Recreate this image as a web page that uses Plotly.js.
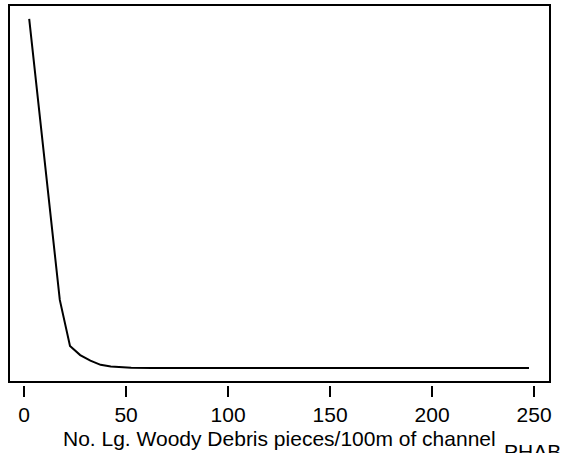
<!DOCTYPE html>
<html>
<head>
<meta charset="utf-8">
<script src="https://cdn.plot.ly/plotly-3.0.1.min.js"></script>
<style>html,body{margin:0;padding:0;background:#fff;}#chart{width:562px;height:453px;}</style>
</head>
<body>
<div id="chart"></div>
<script>
// Data (x: LWD pieces/100m, y: relative response)
var lwdX = [2.5, 7.5, 12.5, 17.5, 22.5, 27.5, 32.5, 37.5, 42.5, 47.5, 52.5, 62.5, 247.5];
var respY = [1.0, 0.728, 0.458, 0.195, 0.063, 0.037, 0.021, 0.009, 0.004, 0.002, 0.001, 0.0, 0.0];
var tickVals = [0, 50, 100, 150, 200, 250];
var tickText = ["0", "50", "100", "150", "200", "250"];
var xTitle = "No. Lg. Woody Debris pieces/100m of channel";
var cornerText = "PHAB T";

var font = "Liberation Sans, Arial, Helvetica, sans-serif";

var trace = {
  x: lwdX, y: respY, type: "scatter", mode: "lines",
  line: {color: "#000", width: 2}, hoverinfo: "skip"
};

var layout = {
  width: 562, height: 453,
  margin: {l: 9, r: 12, t: 5, b: 68},
  paper_bgcolor: "#fff", plot_bgcolor: "#fff",
  showlegend: false,
  xaxis: {
    range: [-7.4, 257.8], anchor: "free", position: 0,
    tickmode: "array", tickvals: tickVals, ticktext: tickText,
    ticks: "outside", ticklen: 11, tickwidth: 1.5, tickcolor: "#000",
    showline: false, showgrid: false, zeroline: false,
    tickfont: {family: font, size: 21, color: "#000"}
  },
  yaxis: {
    domain: [0.008, 1],
    range: [-0.04, 1.04],
    showticklabels: false, ticks: "", showgrid: false, zeroline: false, showline: false
  },
  shapes: [{
    type: "rect", xref: "paper", yref: "y domain",
    x0: 0, x1: 1, y0: 0, y1: 1,
    line: {color: "#000", width: 2}, fillcolor: "rgba(0,0,0,0)"
  }],
  annotations: [
    {text: xTitle, xref: "paper", yref: "paper", x: 0.5, y: -0.105,
     xanchor: "center", yanchor: "top", showarrow: false,
     font: {family: font, size: 21, color: "#000"}},
    {text: cornerText, xref: "paper", yref: "paper", x: 0.911, y: -0.14,
     xanchor: "left", yanchor: "top", showarrow: false,
     font: {family: font, size: 21, color: "#000"}}
  ]
};

Plotly.newPlot("chart", [trace], layout, {staticPlot: true, displayModeBar: false});
</script>
</body>
</html>
